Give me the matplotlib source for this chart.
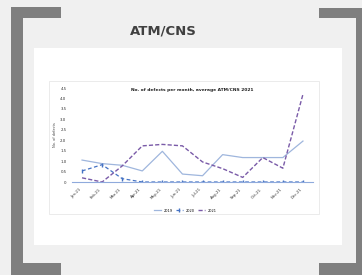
import matplotlib.pyplot as plt
from matplotlib.patches import Rectangle

months = ["Jan-21", "Feb-21", "Mar-21", "Apr-21", "May-21", "Jun-21",
          "Jul-21", "Aug-21", "Sep-21", "Oct-21", "Nov-21", "Dec-21"]
series_names = ["2019", "2020", "2021"]
defects_2019 = [1.05, 0.88, 0.8, 0.53, 1.47, 0.38, 0.3, 1.31, 1.17, 1.17, 1.17, 1.96]
defects_2020 = [0.53, 0.83, 0.16, 0, 0, 0, 0, 0, 0, 0, 0, 0]
defects_2021 = [0.2, 0, 0.77, 1.73, 1.8, 1.73, 0.96, 0.64, 0.22, 1.17, 0.66, 4.2]
y_ticks = [0, 0.5, 1.0, 1.5, 2.0, 2.5, 3.0, 3.5, 4.0, 4.5]

W, H = 362, 275
fig = plt.figure(figsize=(W / 100, H / 100), dpi=100)
fig.patch.set_facecolor("#f0f0f0")


def px_rect(x, y, w, h, color, edge="none", lw=0):
    # rectangle given in pixel coordinates (origin top-left), drawn behind the axes
    fig.add_artist(Rectangle((x / W, 1 - (y + h) / H), w / W, h / H,
                             transform=fig.transFigure, facecolor=color,
                             edgecolor=edge, linewidth=lw, zorder=-5))


# grey corner brackets
bracket = "#7f7f7f"
px_rect(11, 7, 12, 268, bracket)
px_rect(11, 7, 50, 11, bracket)
px_rect(11, 263, 50, 12, bracket)
px_rect(356, 8, 6, 267, bracket)
px_rect(319, 8, 43, 10, bracket)
px_rect(319, 263, 43, 12, bracket)

# white panel and chart area
px_rect(34, 48, 308, 197, "white")
px_rect(49, 81, 270, 133, "white", edge="#e8e8e8", lw=0.6)

fig.text(163 / W, 1 - 31 / H, "ATM/CNS", ha="center", va="center",
         fontsize=9.5, fontweight="bold", color="#404040")

ax = fig.add_axes([72 / W, 1 - 182 / H, 241 / W, 94 / H])
ax.set_facecolor("none")
x = range(len(months))
ax.plot(x, defects_2019, color="#9fb6dd", lw=0.9, label=series_names[0])
ax.plot(x, defects_2020, color="#4472c4", lw=0.9, ls=(0, (3, 2)),
        marker="|", ms=2.5, label=series_names[1])
ax.plot(x, defects_2021, color="#7a5ba8", lw=1.0, ls=(0, (3, 1.5)),
        label=series_names[2])

ax.set_xlim(-0.5, len(months) - 0.5)
ax.set_ylim(0, 4.5)
ax.set_yticks(y_ticks)
ax.set_yticklabels([f"{v:.1f}" if v else "0" for v in y_ticks])
ax.set_xticks(list(x))
ax.set_xticklabels(months, rotation=45, ha="right")
ax.tick_params(labelsize=2.8, length=0, colors="#303030", pad=4)
for side in ["top", "right", "left"]:
    ax.spines[side].set_visible(False)
ax.spines["bottom"].set_color("#8faadc")
ax.spines["bottom"].set_linewidth(0.8)
ax.set_ylabel("No. of defects", fontsize=2.5, color="#404040", labelpad=2)
ax.set_title("No. of defects per month, average ATM/CNS 2021",
             fontsize=3.2, fontweight="bold", color="#202020", pad=0, y=0.97)
ax.legend(loc="upper center", bbox_to_anchor=(0.47, -0.25), ncol=3,
          fontsize=2.5, frameon=False, handlelength=2, columnspacing=1)

fig.savefig("out.png", dpi=100, facecolor=fig.get_facecolor())
